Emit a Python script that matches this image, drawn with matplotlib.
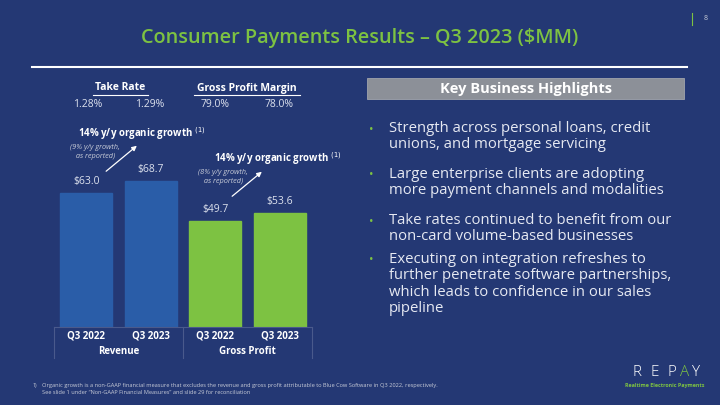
import matplotlib.pyplot as plt
from matplotlib.patches import Rectangle, FancyArrowPatch
from matplotlib.lines import Line2D

# data
periods = ["Q3 2022", "Q3 2023", "Q3 2022", "Q3 2023"]
groups = ["Revenue", "Gross Profit"]
values = [63.0, 68.7, 49.7, 53.6]
take_rate = ["1.28%", "1.29%"]
gp_margin = ["79.0%", "78.0%"]
highlights = [
    "Strength across personal loans, credit\nunions, and mortgage servicing",
    "Large enterprise clients are adopting\nmore payment channels and modalities",
    "Take rates continued to benefit from our\nnon-card volume-based businesses",
    "Executing on integration refreshes to\nfurther penetrate software partnerships,\nwhich leads to confidence in our sales\npipeline",
]

BG = "#243874"
GREEN = "#7DC242"
BLUE = "#2A5DA8"
GRID = "#4A5A8C"
FONT = "Open Sans"

W, H = 720, 405
fig = plt.figure(figsize=(7.2, 4.05), dpi=100, facecolor=BG)


def fx(px):
    return px / W


def fy(py):
    return 1 - py / H


def txt(px, py, s, **kw):
    kw.setdefault("color", "white")
    kw.setdefault("family", FONT)
    fig.text(fx(px), fy(py), s, **kw)


# title and header line
txt(360, 38, "Consumer Payments Results \u2013 Q3 2023 ($MM)", color=GREEN,
    fontsize=14.3, fontweight="semibold", ha="center", va="center")
fig.add_artist(Line2D([fx(32), fx(687)], [fy(67), fy(67)], color="white", lw=1.5))
fig.add_artist(Line2D([fx(692), fx(692)], [fy(13), fy(25)], color=GREEN, lw=0.8))
txt(706, 18, "8", fontsize=5, color="#C8CCD8", ha="center", va="center")

# bar chart
ax = fig.add_axes([fx(54), fy(327), fx(312) - fx(54), (327 - 75) / H])
ax.set_facecolor("none")
colors = [BLUE, BLUE, GREEN, GREEN]
x = range(len(values))
bars = ax.bar(x, values, width=0.8, color=colors, edgecolor=colors)
for b, v in zip(bars, values):
    ax.text(b.get_x() + b.get_width() / 2, v + 2.8, f"${v:.1f}", ha="center",
            va="bottom", color="#DDE2EE", fontsize=7.5, family=FONT)
ax.set_xlim(-0.5, 3.5)
ax.set_ylim(0, 118.5)
ax.axis("off")

# category table under bars
fig.add_artist(Line2D([fx(54), fx(312)], [fy(327), fy(327)], color=GRID, lw=0.8))
for xx in [54, 183, 312]:
    fig.add_artist(Line2D([fx(xx), fx(xx)], [fy(327), fy(358)], color=GRID, lw=0.8))
for i, p in enumerate(periods):
    xc = ax.transData.transform((i, 0))[0] / fig.dpi / 7.2
    fig.text(xc, fy(336), p, ha="center", va="center", color="white",
             fontsize=7, fontweight="bold", family=FONT)
for j, g in enumerate(groups):
    xc = ax.transData.transform((2 * j + 0.5, 0))[0] / fig.dpi / 7.2
    fig.text(xc, fy(351), g, ha="center", va="center", color="white",
             fontsize=7, fontweight="bold", family=FONT)

# take rate / margin
txt(120, 88, "Take Rate", fontsize=7.5, fontweight="bold", ha="center", va="center")
fig.add_artist(Line2D([fx(93), fx(148)], [fy(94.5), fy(94.5)], color="white", lw=0.8))
txt(247, 88, "Gross Profit Margin", fontsize=7.5, fontweight="bold", ha="center", va="center")
fig.add_artist(Line2D([fx(194), fx(300)], [fy(94.5), fy(94.5)], color="white", lw=0.8))
for px, s in zip([88, 150, 215, 279], take_rate + gp_margin):
    txt(px, 104, s, fontsize=7.5, ha="center", va="center", color="#DDE2EE")

# growth annotations
txt(78, 134, "14% y/y organic growth $^{(1)}$", fontsize=7, fontweight="bold", va="center")
txt(95, 152, "(9% y/y growth,\n as reported)", fontsize=5.3, style="italic",
    ha="center", va="center", color="#C8CCD8", linespacing=1.3)
fig.add_artist(FancyArrowPatch((fx(104), fy(173)), (fx(139), fy(144)),
                               transform=fig.transFigure, arrowstyle="-|>",
                               mutation_scale=7, color="white", lw=0.9))
txt(214, 159, "14% y/y organic growth $^{(1)}$", fontsize=7, fontweight="bold", va="center")
txt(223, 177, "(8% y/y growth,\n as reported)", fontsize=5.3, style="italic",
    ha="center", va="center", color="#C8CCD8", linespacing=1.3)
fig.add_artist(FancyArrowPatch((fx(230), fy(198)), (fx(264), fy(170)),
                               transform=fig.transFigure, arrowstyle="-|>",
                               mutation_scale=7, color="white", lw=0.9))

# key business highlights
fig.add_artist(Rectangle((fx(367), fy(99)), fx(684) - fx(367), (99 - 78) / H,
                         transform=fig.transFigure, facecolor="#8C9098",
                         edgecolor="#A0A4AC", lw=0.6))
txt(526, 88.5, "Key Business Highlights", fontsize=10.5, fontweight="bold",
    ha="center", va="center")
for py, s in zip([121, 167, 213, 252], highlights):
    txt(369, py + 8, "\u2022", color=GREEN, fontsize=8.5, va="center")
    txt(389, py, s, fontsize=10.7, va="top", color="#E6E9F2", linespacing=1.12)

# footer
txt(33, 386, "1)", fontsize=3.8, color="#C8CCD8", va="center")
txt(42, 386, "Organic growth is a non-GAAP financial measure that excludes the revenue and gross profit "
    "attributable to Blue Cow Software in Q3 2022, respectively.",
    fontsize=4.1, color="#C8CCD8", va="center")
txt(42, 393, "See slide 1 under \u201cNon-GAAP Financial Measures\u201d and slide 29 for reconciliation",
    fontsize=4.1, color="#C8CCD8", va="center")
for px, ch in zip([637, 655, 672, 685, 695], "REPAY"):
    txt(px, 373, ch, fontsize=11, fontweight="light", ha="center", va="center",
        color=GREEN if ch == "A" else "white")
txt(665, 386, "Realtime Electronic Payments", fontsize=3.9, fontweight="bold",
    ha="center", va="center", color=GREEN)

fig.savefig("out.png", dpi=100, facecolor=BG)
